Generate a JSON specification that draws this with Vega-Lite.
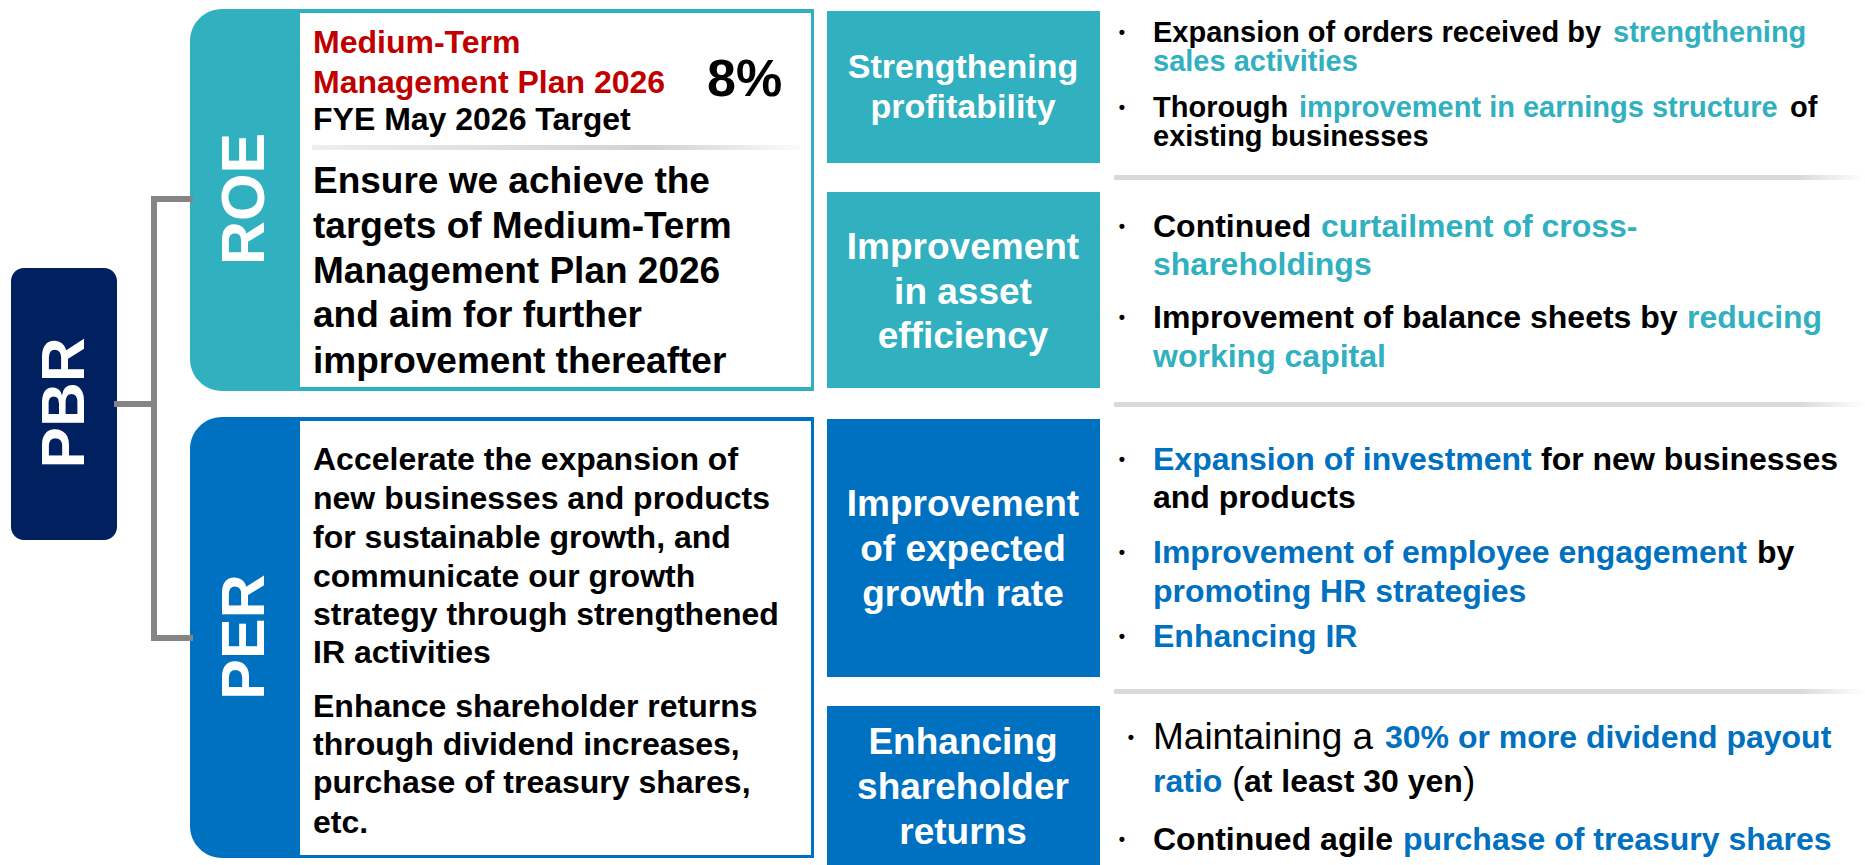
{
  "$schema": "https://vega.github.io/schema/vega-lite/v6.json",
  "width": 1865,
  "height": 865,
  "autosize": {"type": "fit", "contains": "padding"},
  "padding": 0,
  "background": "#ffffff",
  "config": {"view": {"stroke": null}, "text": {"font": "Liberation Sans"}},
  "datasets": {
    "rounded": [
      {"name": "ROE", "x": 190, "x2": 814, "y": 9, "y2": 391, "tone": "teal"},
      {"name": "PER", "x": 190, "x2": 814, "y": 417, "y2": 858, "tone": "blue"}
    ],
    "pbr": [
      {"name": "PBR", "x": 11, "x2": 117, "y": 268, "y2": 540, "tone": "navy"}
    ],
    "panels": [
      {"name": "ROE text", "x": 300, "x2": 811, "y": 13, "y2": 387, "tone": "white"},
      {"name": "PER text", "x": 300, "x2": 811, "y": 421, "y2": 855, "tone": "white"},
      {"name": "Strengthening profitability", "x": 827, "x2": 1100, "y": 11, "y2": 163, "tone": "teal"},
      {"name": "Improvement in asset efficiency", "x": 827, "x2": 1100, "y": 192, "y2": 388, "tone": "teal"},
      {"name": "Improvement of expected growth rate", "x": 827, "x2": 1100, "y": 419, "y2": 677, "tone": "blue"},
      {"name": "Enhancing shareholder returns", "x": 827, "x2": 1100, "y": 706, "y2": 865, "tone": "blue"}
    ],
    "dividers": [
      {"x": 1114, "x2": 1865, "y": 175, "y2": 180},
      {"x": 1114, "x2": 1865, "y": 402, "y2": 407},
      {"x": 1114, "x2": 1865, "y": 689, "y2": 694}
    ],
    "headerDivider": [
      {"x": 312, "x2": 800, "y": 145, "y2": 150}
    ],
    "links": [
      {"x": 154, "x2": 154, "y": 199, "y2": 638},
      {"x": 154, "x2": 190, "y": 199, "y2": 199},
      {"x": 154, "x2": 190, "y": 638, "y2": 638},
      {"x": 117, "x2": 154, "y": 404, "y2": 404}
    ],
    "titles": [
      {"text": "PBR", "x": 65, "y": 403, "style": "pbr"},
      {"text": "ROE", "x": 246, "y": 199, "style": "tab"},
      {"text": "PER", "x": 246, "y": 637, "style": "tab"}
    ],
    "centered": [
      {"text": "Strengthening", "x": 963, "y": 68, "tone": "white", "style": "box1"},
      {"text": "profitability", "x": 963, "y": 108, "tone": "white", "style": "box1"},
      {"text": "Improvement", "x": 963, "y": 248, "tone": "white", "style": "box"},
      {"text": "in asset", "x": 963, "y": 293, "tone": "white", "style": "box"},
      {"text": "efficiency", "x": 963, "y": 337, "tone": "white", "style": "box"},
      {"text": "Improvement", "x": 963, "y": 505, "tone": "white", "style": "box"},
      {"text": "of expected", "x": 963, "y": 550, "tone": "white", "style": "box"},
      {"text": "growth rate", "x": 963, "y": 595, "tone": "white", "style": "box"},
      {"text": "Enhancing", "x": 963, "y": 743, "tone": "white", "style": "box"},
      {"text": "shareholder", "x": 963, "y": 788, "tone": "white", "style": "box"},
      {"text": "returns", "x": 963, "y": 833, "tone": "white", "style": "box"},
      {"text": "•", "x": 1122, "y": 33, "tone": "black", "style": "dot"},
      {"text": "•", "x": 1122, "y": 108, "tone": "black", "style": "dot"},
      {"text": "•", "x": 1122, "y": 227, "tone": "black", "style": "dot"},
      {"text": "•", "x": 1122, "y": 318, "tone": "black", "style": "dot"},
      {"text": "•", "x": 1122, "y": 460, "tone": "black", "style": "dot"},
      {"text": "•", "x": 1122, "y": 553, "tone": "black", "style": "dot"},
      {"text": "•", "x": 1122, "y": 637, "tone": "black", "style": "dot"},
      {"text": "•", "x": 1131, "y": 738, "tone": "black", "style": "dot"},
      {"text": "•", "x": 1122, "y": 840, "tone": "black", "style": "dot"}
    ],
    "labels": [
      {"text": "Medium-Term", "x": 313, "y": 43, "tone": "red", "style": "hdr"},
      {"text": "Management Plan 2026", "x": 313, "y": 83, "tone": "red", "style": "hdr"},
      {"text": "FYE May 2026 Target", "x": 313, "y": 120, "tone": "black", "style": "hdr"},
      {"text": "8%", "x": 707, "y": 80, "tone": "black", "style": "pct"},
      {"text": "Ensure we achieve the", "x": 313, "y": 182, "tone": "black", "style": "roe"},
      {"text": "targets of Medium-Term", "x": 313, "y": 227, "tone": "black", "style": "roe"},
      {"text": "Management Plan 2026", "x": 313, "y": 272, "tone": "black", "style": "roe"},
      {"text": "and aim for further", "x": 313, "y": 316, "tone": "black", "style": "roe"},
      {"text": "improvement thereafter", "x": 313, "y": 362, "tone": "black", "style": "roe"},
      {"text": "Accelerate the expansion of", "x": 313, "y": 460, "tone": "black", "style": "per"},
      {"text": "new businesses and products", "x": 313, "y": 499, "tone": "black", "style": "per"},
      {"text": "for sustainable growth, and", "x": 313, "y": 538, "tone": "black", "style": "per"},
      {"text": "communicate our growth", "x": 313, "y": 577, "tone": "black", "style": "per"},
      {"text": "strategy through strengthened", "x": 313, "y": 615, "tone": "black", "style": "per"},
      {"text": "IR activities", "x": 313, "y": 653, "tone": "black", "style": "per"},
      {"text": "Enhance shareholder returns", "x": 313, "y": 707, "tone": "black", "style": "per"},
      {"text": "through dividend increases,", "x": 313, "y": 745, "tone": "black", "style": "per"},
      {"text": "purchase of treasury shares,", "x": 313, "y": 783, "tone": "black", "style": "per"},
      {"text": "etc.", "x": 313, "y": 823, "tone": "black", "style": "per"},
      {"text": "Expansion of orders received by", "x": 1153, "y": 33, "tone": "black", "style": "b1"},
      {"text": "strengthening", "x": 1613, "y": 33, "tone": "teal", "style": "b1"},
      {"text": "sales activities", "x": 1153, "y": 62, "tone": "teal", "style": "b1"},
      {"text": "Thorough", "x": 1153, "y": 108, "tone": "black", "style": "b1"},
      {"text": "improvement in earnings structure", "x": 1299, "y": 108, "tone": "teal", "style": "b1"},
      {"text": "of", "x": 1790, "y": 108, "tone": "black", "style": "b1"},
      {"text": "existing businesses", "x": 1153, "y": 137, "tone": "black", "style": "b1"},
      {"text": "Continued", "x": 1153, "y": 227, "tone": "black", "style": "b2"},
      {"text": "curtailment of cross-", "x": 1321, "y": 227, "tone": "teal", "style": "b2"},
      {"text": "shareholdings", "x": 1153, "y": 265, "tone": "teal", "style": "b2"},
      {"text": "Improvement of balance sheets by", "x": 1153, "y": 318, "tone": "black", "style": "b2"},
      {"text": "reducing", "x": 1687, "y": 318, "tone": "teal", "style": "b2"},
      {"text": "working capital", "x": 1153, "y": 357, "tone": "teal", "style": "b2"},
      {"text": "Expansion of investment", "x": 1153, "y": 460, "tone": "blue", "style": "b2"},
      {"text": "for new businesses", "x": 1541, "y": 460, "tone": "black", "style": "b2"},
      {"text": "and products", "x": 1153, "y": 498, "tone": "black", "style": "b2"},
      {"text": "Improvement of employee engagement", "x": 1153, "y": 553, "tone": "blue", "style": "b2"},
      {"text": "by", "x": 1757, "y": 553, "tone": "black", "style": "b2"},
      {"text": "promoting HR strategies", "x": 1153, "y": 592, "tone": "blue", "style": "b2"},
      {"text": "Enhancing IR", "x": 1153, "y": 637, "tone": "blue", "style": "b2"},
      {"text": "30% or more dividend payout", "x": 1385, "y": 738, "tone": "blue", "style": "b2"},
      {"text": "ratio", "x": 1153, "y": 782, "tone": "blue", "style": "b2"},
      {"text": "at least 30 yen", "x": 1244, "y": 782, "tone": "black", "style": "b2"},
      {"text": "Continued agile", "x": 1153, "y": 840, "tone": "black", "style": "b2"},
      {"text": "purchase of treasury shares", "x": 1403, "y": 840, "tone": "blue", "style": "b2"}
    ],
    "plain": [
      {"text": "Maintaining a", "x": 1153, "y": 738, "tone": "black", "style": "reg"},
      {"text": "(", "x": 1232, "y": 782, "tone": "black", "style": "reg"},
      {"text": ")", "x": 1463, "y": 782, "tone": "black", "style": "reg"}
    ]
  },
  "encoding": {
    "x": {"field": "x", "type": "quantitative", "scale": {"domain": [0, 1865], "nice": false, "zero": false}, "axis": null},
    "y": {"field": "y", "type": "quantitative", "scale": {"domain": [0, 865], "nice": false, "zero": false, "reverse": true}, "axis": null}
  },
  "layer": [
    {
      "data": {"name": "rounded"},
      "mark": {"type": "rect", "cornerRadiusTopLeft": 32, "cornerRadiusBottomLeft": 32},
      "encoding": {
        "x2": {"field": "x2"}, "y2": {"field": "y2"},
        "color": {"field": "tone", "type": "nominal", "legend": null,
          "scale": {"domain": ["teal", "blue", "navy", "white", "black", "red"], "range": ["#31B0C0", "#0070C0", "#002060", "#FFFFFF", "#000000", "#C00000"]}}
      }
    },
    {
      "data": {"name": "pbr"},
      "mark": {"type": "rect", "cornerRadius": 13},
      "encoding": {
        "x2": {"field": "x2"}, "y2": {"field": "y2"},
        "color": {"field": "tone", "type": "nominal", "legend": null}
      }
    },
    {
      "data": {"name": "panels"},
      "mark": {"type": "rect"},
      "encoding": {
        "x2": {"field": "x2"}, "y2": {"field": "y2"},
        "color": {"field": "tone", "type": "nominal", "legend": null}
      }
    },
    {
      "data": {"name": "dividers"},
      "mark": {"type": "rect", "color": {"gradient": "linear", "stops": [{"offset": 0, "color": "#d9d9d9"}, {"offset": 0.91, "color": "#d9d9d9"}, {"offset": 1, "color": "#ffffff"}]}},
      "encoding": {"x2": {"field": "x2"}, "y2": {"field": "y2"}}
    },
    {
      "data": {"name": "headerDivider"},
      "mark": {"type": "rect", "color": {"gradient": "linear", "stops": [{"offset": 0, "color": "#eeeeee"}, {"offset": 0.7, "color": "#d2d2d2"}, {"offset": 1, "color": "#fbfbfb"}]}},
      "encoding": {"x2": {"field": "x2"}, "y2": {"field": "y2"}}
    },
    {
      "data": {"name": "links"},
      "mark": {"type": "rule", "color": "#858585", "strokeWidth": 6, "strokeCap": "square"},
      "encoding": {"x2": {"field": "x2"}, "y2": {"field": "y2"}}
    },
    {
      "data": {"name": "titles"},
      "mark": {"type": "text", "angle": 270, "align": "center", "baseline": "middle", "fontWeight": "bold", "color": "#ffffff"},
      "encoding": {
        "text": {"field": "text"},
        "size": {"field": "style", "type": "nominal", "legend": null, "scale": {"type": "ordinal", "domain": ["pbr", "tab"], "range": [62, 61]}}
      }
    },
    {
      "data": {"name": "centered"},
      "mark": {"type": "text", "align": "center", "baseline": "middle", "fontWeight": "bold"},
      "encoding": {
        "text": {"field": "text"},
        "color": {"field": "tone", "type": "nominal", "legend": null},
        "size": {"field": "style", "type": "nominal", "legend": null, "scale": {"type": "ordinal", "domain": ["box1", "box", "dot"], "range": [34, 37, 18]}}
      }
    },
    {
      "data": {"name": "labels"},
      "mark": {"type": "text", "align": "left", "baseline": "middle", "fontWeight": "bold"},
      "encoding": {
        "text": {"field": "text"},
        "color": {"field": "tone", "type": "nominal", "legend": null},
        "size": {"field": "style", "type": "nominal", "legend": null, "scale": {"type": "ordinal", "domain": ["hdr", "pct", "roe", "per", "b1", "b2"], "range": [32, 52, 37, 32, 29, 32]}}
      }
    },
    {
      "data": {"name": "plain"},
      "mark": {"type": "text", "align": "left", "baseline": "middle", "fontWeight": "normal", "fontSize": 37},
      "encoding": {
        "text": {"field": "text"},
        "color": {"field": "tone", "type": "nominal", "legend": null}
      }
    }
  ],
  "resolve": {"scale": {"size": "independent"}}
}
